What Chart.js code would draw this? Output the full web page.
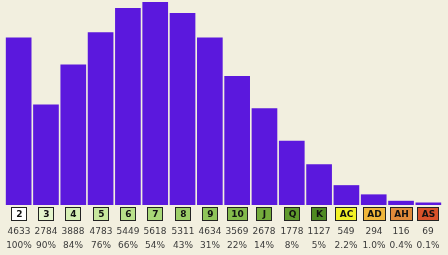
<!DOCTYPE html>
<html>
<head>
<meta charset="utf-8">
<script src="https://cdn.jsdelivr.net/npm/chart.js@4/dist/chart.umd.min.js"></script>
<style>
  html, body { margin: 0; padding: 0; background: #f2efdf; }
  #wrap { width: 448px; height: 255px; }
</style>
</head>
<body>
<div id="wrap"><canvas id="myChart" width="448" height="255"></canvas></div>
<script>
// Card ranks, hand counts and cumulative share
const cards = ['2', '3', '4', '5', '6', '7', '8', '9', '10', 'J', 'Q', 'K', 'AC', 'AD', 'AH', 'AS'];
const counts = [4633, 2784, 3888, 4783, 5449, 5618, 5311, 4634, 3569, 2678, 1778, 1127, 549, 294, 116, 69];
const shares = ['100%', '90%', '84%', '76%', '66%', '54%', '43%', '31%', '22%', '14%', '8%', '5%', '2.2%', '1.0%', '0.4%', '0.1%'];
const badgeColors = [
    '#ffffff', '#e4f5cc', '#d6efb4', '#c8e89e', '#b8e08a', '#a8d878', '#9ccf68', '#8fc55a',
    '#84bb4c', '#74ac3c', '#5f9a2c', '#4f8a22', '#f2f226', '#f0b63a', '#e08a3a', '#d9522a'
];

const FONT = '"DejaVu Sans", Verdana, sans-serif';

// draws the rank badges and the two rows of numbers under the bars
const labelRows = {
    id: 'labelRows',
    afterDraw(chart) {
        const c = chart.ctx;
        const x = chart.scales.x;
        c.save();
        c.textAlign = 'center';
        c.textBaseline = 'middle';
        cards.forEach((card, i) => {
            const cx = Math.round(x.getPixelForValue(i));
            c.font = 'bold 9px ' + FONT;
            const w = Math.max(15, Math.ceil(c.measureText(card).width) + 7);
            const left = cx - Math.round(w / 2) + 0.5;
            c.fillStyle = badgeColors[i];
            c.fillRect(left, 207.5, w, 13);
            c.strokeStyle = '#222';
            c.lineWidth = 1;
            c.strokeRect(left, 207.5, w, 13);
            c.fillStyle = '#111';
            c.fillText(card, cx + 0.5, 214.5);

            c.font = '9px ' + FONT;
            c.fillStyle = '#3a3a3a';
            c.fillText(String(counts[i]), cx, 232);
            c.fillText(shares[i], cx, 246);
        });
        c.restore();
    }
};

new Chart(document.getElementById('myChart'), {
    type: 'bar',
    data: {
        labels: cards,
        datasets: [{
            data: counts,
            backgroundColor: '#5b18dd',
            borderWidth: 0,
            barPercentage: 0.94,
            categoryPercentage: 1
        }]
    },
    options: {
        responsive: false,
        animation: false,
        layout: { padding: { left: 5, right: 6, top: 2, bottom: 50 } },
        scales: {
            x: { display: false },
            y: { display: false, min: 0, max: 5618 }
        },
        plugins: {
            legend: { display: false },
            tooltip: { enabled: false }
        }
    },
    plugins: [labelRows]
});
</script>
</body>
</html>
